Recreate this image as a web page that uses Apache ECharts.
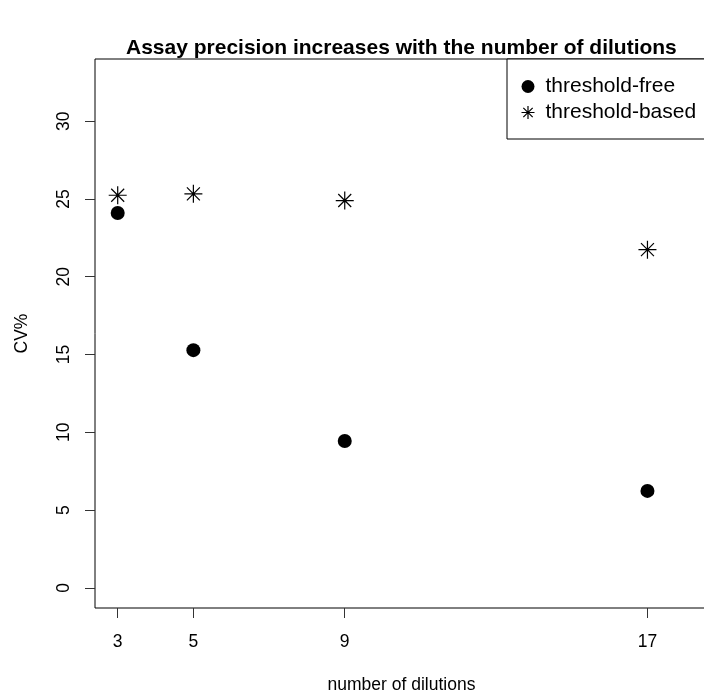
<!DOCTYPE html>
<html>
<head>
<meta charset="utf-8">
<script src="https://cdn.jsdelivr.net/npm/echarts@6/dist/echarts.min.js"></script>
<style>
  html, body { margin: 0; padding: 0; background: #fff; }
  #chart { width: 704px; height: 693px; }
</style>
</head>
<body>
<div id="chart"></div>
<script>
// Number of dilutions tested
const dilutions = [3, 5, 9, 17];
// CV% per method
const thresholdFree = [24.1, 15.28, 9.44, 6.23];
const thresholdBased = [25.24, 25.33, 24.9, 21.74];
// Tick marks
const xTicks = [3, 5, 9, 17];
const yTicks = [0, 5, 10, 15, 20, 25, 30];

// R-style pch=8 asterisk: a plus and a cross overlaid
const asterisk = 'path://M0,-1L0,1M-1,0L1,0M-0.72,-0.72L0.72,0.72M-0.72,0.72L0.72,-0.72';

const font = 'Liberation Sans, Arial, Helvetica, sans-serif';

const chart = echarts.init(document.getElementById('chart'), null, { renderer: 'canvas' });

chart.setOption({
  animation: false,
  backgroundColor: '#ffffff',
  textStyle: { fontFamily: font, color: '#000' },
  title: {
    text: 'Assay precision increases with the number of dilutions',
    left: 121,
    top: 33,
    textStyle: { fontFamily: font, fontSize: 21, fontWeight: 'bold', color: '#000' }
  },
  legend: {
    orient: 'vertical',
    left: 507,
    top: 59,
    padding: [17, 60, 16, 12],
    itemGap: 5,
    itemWidth: 13,
    itemHeight: 22,
    backgroundColor: '#fff',
    borderColor: '#000',
    borderWidth: 1,
    borderRadius: 0,
    textStyle: { fontFamily: font, fontSize: 21, color: '#000', padding: [0, 0, 0, 6] },
    data: [
      { name: 'threshold-free', icon: 'circle', itemStyle: { color: '#000' } },
      { name: 'threshold-based', icon: asterisk,
        itemStyle: { color: 'none', borderColor: '#000', borderWidth: 1.2 } }
    ]
  },
  grid: {
    left: 95,
    top: 59,
    width: 613,
    height: 549,
    show: true,
    borderColor: '#000',
    borderWidth: 1,
    containLabel: false,
    outerBoundsMode: 'none'
  },
  xAxis: {
    type: 'value',
    min: 2.4,
    max: 18.6,
    name: 'number of dilutions',
    nameLocation: 'middle',
    nameGap: 68,
    nameTextStyle: { fontFamily: font, fontSize: 17.5, color: '#000' },
    splitLine: { show: false },
    axisLine: { show: false, onZero: false },
    axisTick: { show: true, inside: false, length: 10, customValues: xTicks,
      lineStyle: { color: '#333', width: 1 } },
    axisLabel: { show: true, customValues: xTicks, margin: 25,
      fontFamily: font, fontSize: 17.5, color: '#000' }
  },
  yAxis: {
    type: 'value',
    min: -1.3,
    max: 34,
    name: 'CV%',
    nameLocation: 'middle',
    nameGap: 64,
    nameTextStyle: { fontFamily: font, fontSize: 17.5, color: '#000' },
    splitLine: { show: false },
    axisLine: { show: false, onZero: false },
    axisTick: { show: true, inside: false, length: 10, customValues: yTicks,
      lineStyle: { color: '#333', width: 1 } },
    axisLabel: { show: true, customValues: yTicks, rotate: 90, margin: 22,
      fontFamily: font, fontSize: 17.5, color: '#000' }
  },
  series: [
    {
      name: 'threshold-free',
      type: 'scatter',
      symbol: 'circle',
      symbolSize: 14,
      itemStyle: { color: '#000', opacity: 1 },
      data: dilutions.map((d, i) => [d, thresholdFree[i]])
    },
    {
      name: 'threshold-based',
      type: 'scatter',
      symbol: asterisk,
      symbolSize: 18,
      itemStyle: { color: 'none', borderColor: '#000', borderWidth: 1.2, opacity: 1 },
      data: dilutions.map((d, i) => [d, thresholdBased[i]])
    }
  ]
});
</script>
</body>
</html>
